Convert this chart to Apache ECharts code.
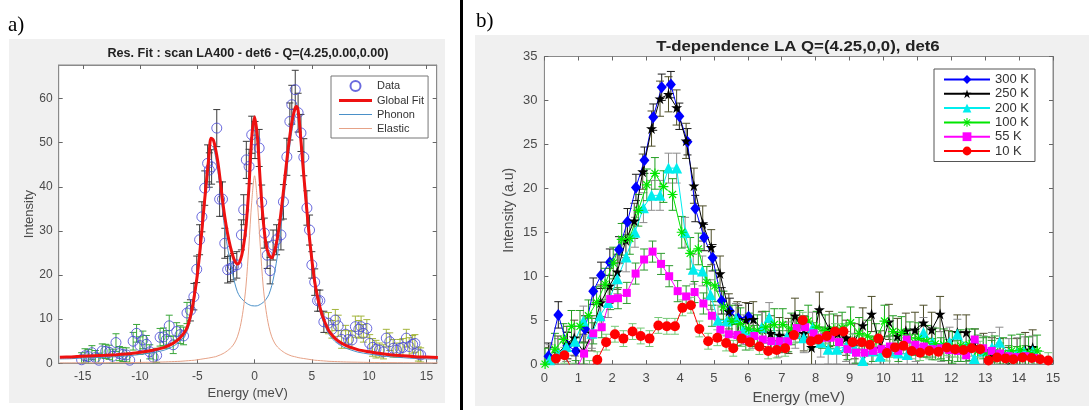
<!DOCTYPE html>
<html>
<head>
<meta charset="utf-8">
<script src="https://cdn.jsdelivr.net/npm/echarts@6/dist/echarts.min.js"></script>
<style>
  html, body { margin: 0; padding: 0; background: #fff; }
  #chart { width: 1089px; height: 410px; }
</style>
</head>
<body>
<div id="chart"></div>
<script>
// ---------- panel a) : resolution fit ----------
var fitE = [-17, -16, -15, -14, -13, -12, -11, -10, -9, -8, -7.5, -7, -6.5, -6, -5.75, -5.5, -5.25, -5, -4.75, -4.5,
  -4.25, -4, -3.8, -3.6, -3.4, -3.2, -3, -2.75, -2.5, -2.25, -2, -1.75, -1.5, -1.25, -1, -0.75, -0.5, -0.25, 0,
  0.25, 0.5, 0.75, 1, 1.25, 1.5, 1.75, 2, 2.25, 2.5, 2.75, 3, 3.25, 3.5, 3.65, 3.8, 4, 4.25, 4.5, 4.75,
  5, 5.25, 5.5, 5.75, 6, 6.5, 7, 7.5, 8, 9, 10, 11, 12, 13, 14, 15, 16];
var fitGlobal = [1.35, 1.45, 1.6, 1.7, 1.8, 1.95, 2.15, 2.5, 2.9, 3.5, 4.0, 4.7, 5.8, 7.5, 9.2, 11.8, 15.5, 20, 26, 33,
  40, 46.5, 51, 50.6, 48.5, 45.5, 41.5, 36, 31.5, 28, 25.3, 23.3, 22.5, 23.3, 26, 31, 39.5, 51, 55.8,
  51.2, 41, 32.5, 27, 24.6, 23.9, 25.5, 28.5, 33, 38.5, 44.5, 50, 54.5, 57.5, 58.2, 57.3, 52, 44, 36.5, 29.5,
  23.5, 18.5, 15, 12.3, 10.2, 7.3, 5.7, 4.7, 4.0, 3.1, 2.6, 2.2, 1.9, 1.7, 1.5, 1.4, 1.3];
var fitPhonon = [1.0, 1.05, 1.2, 1.3, 1.4, 1.5, 1.7, 2.0, 2.35, 2.9, 3.35, 4.0, 5.05, 6.65, 8.3, 10.85, 14.5, 18.9, 24.8, 31.7,
  38.6, 45, 49.4, 48.9, 46.7, 43.5, 39.3, 33.5, 28.6, 24.6, 21.3, 18.4, 16.2, 15.0, 14.3, 13.7, 13.3, 13.05, 13.0,
  13.05, 13.35, 13.8, 14.5, 15.6, 17.6, 20.6, 24.5, 29.6, 35.6, 42, 47.8, 52.5, 55.7, 56.5, 55.7, 50.5, 42.6, 35.2, 28.3,
  22.4, 17.5, 14.05, 11.4, 9.35, 6.55, 5.0, 4.05, 3.4, 2.55, 2.1, 1.73, 1.45, 1.27, 1.09, 1.0, 0.92];
var fitElastic = [0.08, 0.09, 0.1, 0.11, 0.13, 0.15, 0.17, 0.2, 0.25, 0.3, 0.35, 0.4, 0.45, 0.55, 0.6, 0.65, 0.7, 0.8, 0.9, 1.0,
  1.1, 1.2, 1.3, 1.4, 1.5, 1.7, 1.9, 2.2, 2.6, 3.1, 3.7, 4.6, 6, 8.3, 12, 17.5, 26.5, 36.5, 42.5,
  36.5, 26.5, 17.5, 12, 8.3, 6, 4.6, 3.7, 3.1, 2.6, 2.2, 1.9, 1.65, 1.5, 1.4, 1.3, 1.2, 1.1, 1.0, 0.9,
  0.8, 0.7, 0.65, 0.6, 0.55, 0.45, 0.4, 0.35, 0.3, 0.25, 0.2, 0.17, 0.15, 0.13, 0.11, 0.1, 0.09];

var dataE = [-15.1, -14.8, -14.5, -14.2, -13.9, -13.6, -13.3, -13.0, -12.7, -12.4, -12.1, -11.8, -11.5, -11.2, -10.9,
  -10.6, -10.3, -10.0, -9.75, -9.45, -9.15, -8.85, -8.55, -8.25, -7.95, -7.7, -7.45, -7.1, -6.8, -6.5, -6.2,
  -5.9, -5.6, -5.3, -5.05, -4.8, -4.6, -4.35, -4.1, -3.95, -3.75, -3.3, -3.05, -2.8, -2.6, -2.35, -2.1, -1.85,
  -1.55, -1.15, -0.95, -0.72, -0.48, -0.25, 0.04, 0.4, 0.62, 0.85, 1.1, 1.36, 1.62, 1.92, 2.3, 2.52, 2.82,
  3.08, 3.25, 3.55, 3.8, 4.05, 4.3, 4.57, 4.8, 5.0, 5.25, 5.5, 5.7, 6.05, 6.45, 6.75, 7.05, 7.3, 7.6, 7.95,
  8.2, 8.5, 8.8, 9.1, 9.3, 9.5, 9.8, 10.05, 10.3, 10.6, 10.9, 11.25, 11.5, 11.8, 12.1, 12.4, 12.7, 12.95,
  13.25, 13.5, 13.8, 14.0, 14.3, 14.5];
var dataI = [0.8, 1.7, 1.5, 2.4, 1.3, 0.7, 2.8, 2.7, 2.5, 1.6, 4.7, 2.2, 2.0, 1.9, 0.7,
  5.0, 6.8, 4.0, 5.3, 4.3, 2.6, 1.4, 1.8, 5.9, 6.0, 5.4, 8.5, 4.2, 7.2, 6.5, 6.2,
  11.4, 12.0, 15.1, 21.3, 28.0, 33.2, 39.7, 45.3, 43.8, 44.5, 53.3, 37.2, 37.2, 27.2, 21.2, 21.5, 21.9,
  22.3, 29.1, 34.8, 46.1, 44.6, 51.8, 50.6, 48.8, 36.5, 29.5, 24.5, 21.0, 26.8, 28.0, 29.1, 36.6, 46.8,
  54.8, 58.6, 62.0, 56.8, 52.2, 46.7, 35.2, 30.2, 22.3, 18.4, 14.2, 14.2, 9.4, 9.1, 7.7, 9.8, 8.5, 5.4, 6.6,
  5.4, 5.3, 8.3, 7.7, 8.3, 6.8, 7.9, 4.5, 3.6, 3.2, 3.0, 2.6, 5.7, 4.9, 3.4, 3.0, 3.4, 3.6,
  5.7, 3.8, 4.3, 4.5, 2.1, 1.9];
var dataErr = [1.6, 1.6, 1.6, 1.6, 1.6, 1.6, 1.6, 1.6, 1.6, 1.6, 2.0, 1.6, 1.6, 1.6, 1.6,
  2.0, 2.0, 2.0, 2.0, 2.0, 1.6, 1.6, 1.6, 2.0, 2.0, 2.0, 2.4, 2.0, 2.0, 2.0, 2.0,
  2.4, 2.4, 3.0, 3.0, 3.4, 3.4, 3.9, 4.2, 3.9, 3.9, 4.2, 3.9, 3.9, 3.4, 3.0, 3.0, 3.0,
  3.0, 3.4, 3.4, 4.2, 3.9, 4.2, 4.2, 4.2, 3.9, 3.4, 3.0, 3.0, 3.4, 3.4, 3.4, 3.9, 4.2,
  4.2, 4.4, 4.4, 4.4, 4.2, 4.2, 3.9, 3.4, 3.0, 3.0, 2.4, 2.4, 2.4, 2.4, 2.0, 2.4, 2.4, 2.0, 2.0,
  2.0, 2.0, 2.4, 2.0, 2.4, 2.0, 2.0, 2.0, 2.0, 2.0, 1.6, 1.6, 2.0, 2.0, 2.0, 1.6, 2.0, 2.0,
  2.0, 2.0, 2.0, 2.0, 1.6, 1.6];

var ticksAX = [-15, -10, -5, 0, 5, 10, 15];
var ticksAY = [0, 10, 20, 30, 40, 50, 60];

// ---------- panel b) : temperature dependence ----------
var tempNames = ['300 K', '250 K', '200 K', '100 K', '55 K', '10 K'];
var t300E = [0.12, 0.41, 0.68, 0.93, 1.2, 1.44, 1.67, 1.93, 2.2, 2.45, 2.7, 2.95, 3.21, 3.46, 3.73, 3.98, 4.22, 4.45,
  4.71, 4.96, 5.23, 5.47, 5.72, 6.02];
var t300I = [0.9, 5.6, 2.1, 1.5, 4.0, 8.3, 10.1, 11.6, 13.0, 16.2, 20.1, 23.2, 28.1, 31.5, 31.8, 28.2, 25.3, 17.7,
  14.4, 12.1, 7.2, 6.0, 5.2, 5.4];
var t250E = [0.14, 0.4, 0.66, 0.88, 1.15, 1.4, 1.66, 1.92, 2.15, 2.4, 2.65, 2.9, 3.16, 3.41, 3.66, 3.9, 4.18, 4.41,
  4.67, 4.92, 5.18, 5.44, 5.69, 5.94, 6.16, 6.42, 6.67, 6.93, 7.2, 7.39, 7.65, 7.88, 8.11, 8.4, 8.65, 8.9, 9.15,
  9.39, 9.65, 9.92, 10.16, 10.41, 10.66, 10.93, 11.18, 11.42, 11.67, 11.92, 12.18, 12.44, 12.7, 12.95, 13.2,
  13.44, 13.68, 13.94, 14.18, 14.4];
var t250I = [-0.1, 1.2, 2.3, 3.0, 1.4, 3.5, 7.0, 8.9, 10.5, 14.1, 16.3, 21.9, 26.8, 30.2, 30.7, 29.2, 25.4, 20.3,
  16.0, 13.3, 10.3, 6.0, 5.1, 5.0, 5.1, 4.0, 3.5, 3.3, 3.2, 5.5, 3.5, 1.9, 6.2, 4.0, 3.5, 3.0, 2.6,
  4.4, 5.7, 1.8, 4.8, 3.2, 3.8, 3.9, 4.7, 3.9, 5.7, 1.8, 3.6, 3.6, 2.0, 1.5, 1.0,
  0.9, -0.1, 0.9, 1.6, 1.9];
var t200E = [0.15, 0.4, 0.65, 0.9, 1.15, 1.4, 1.64, 1.88, 2.15, 2.41, 2.67, 2.92, 3.16, 3.41, 3.66, 3.9, 4.15, 4.39,
  4.66, 4.9, 5.12, 5.38, 5.65, 5.87, 6.13, 6.41, 6.63, 6.9, 7.15, 7.4, 7.65, 7.91, 8.15, 8.37, 8.62, 8.9, 9.15,
  9.39, 9.65, 9.9, 10.18, 10.44, 10.7, 10.95, 11.18, 11.45, 11.7, 11.95, 12.18, 12.44, 12.68, 12.95, 13.2,
  13.42, 13.7, 13.95, 14.15, 14.4];
var t200I = [0.5, 1.2, 2.0, 2.6, 4.9, 3.5, 5.5, 7.0, 9.7, 12.2, 15.0, 17.8, 19.2, 19.2, 22.3, 22.3, 15.0, 10.8,
  10.6, 7.9, 5.0, 4.9, 5.2, 3.9, 3.5, 4.2, 5.3, 2.5, 3.1, 3.5, 3.0, 4.2, 2.5, 1.7, 1.7, 2.0, 1.8,
  0.4, 1.5, 0.9, 1.5, 1.25, 1.1, 2.0, 3.6, 2.5, 2.0, 2.5, 3.4, 2.0, 0.65, 1.5, 1.9,
  2.5, 1.2, 1.3, 1.4, 1.5];
var t100E = [0.02, 0.31, 0.56, 0.8, 1.05, 1.3, 1.54, 1.79, 2.03, 2.28, 2.52, 2.77, 3.02, 3.26, 3.51, 3.78, 4.05, 4.3,
  4.54, 4.79, 5.03, 5.28, 5.53, 5.78, 6.03, 6.28, 6.53, 6.78, 7.03, 7.28, 7.53, 7.78, 8.03, 8.28, 8.53, 8.78,
  9.03, 9.28, 9.53, 9.78, 10.03, 10.28, 10.53, 10.78, 11.03, 11.28, 11.53, 11.78, 12.03, 12.28, 12.53, 12.78,
  13.03, 13.28, 13.53, 13.78, 14.03, 14.28, 14.53];
var t100I = [0, 1.7, 2.8, 4.3, 4.3, 5.5, 7.0, 9.1, 11.5, 14.2, 14.3, 17.5, 20.4, 21.7, 20.2, 19.3, 15.0, 12.6,
  13.1, 9.3, 8.9, 6.5, 4.9, 4.6, 4.0, 3.8, 4.2, 4.5, 4.5, 4.0, 4.3, 4.9, 4.2, 3.8, 3.9, 4.1,
  4.7, 3.5, 3.2, 2.8, 4.9, 3.7, 3.6, 3.0, 2.9, 2.6, 2.3, 2.2, 1.9, 2.1, 2.2, 1.5,
  1.3, 1.4, 1.2, 1.5, 1.6, 1.3, 1.5];
var t55E = [0.92, 1.17, 1.44, 1.69, 1.94, 2.17, 2.43, 2.69, 2.94, 3.19, 3.44, 3.68, 3.93, 4.18, 4.43, 4.69, 4.94,
  5.19, 5.44, 5.69, 5.94, 6.19, 6.44, 6.69, 6.94, 7.19, 7.44, 7.69, 7.94, 8.19, 8.44, 8.69, 8.94, 9.19, 9.44,
  9.69, 9.94, 10.19, 10.44, 10.69, 10.94, 11.19, 11.44, 11.69, 11.94, 12.19, 12.44, 12.69, 12.94, 13.19,
  13.44, 13.69, 13.94, 14.19, 14.44];
var t55I = [-0.8, 1.2, 3.5, 4.2, 7.4, 7.5, 8.1, 10.3, 11.9, 12.8, 11.4, 10.0, 8.3, 7.7, 8.2, 6.9, 5.5,
  3.9, 3.4, 3.3, 2.8, 3.2, 2.8, 2.6, 2.6, 2.6, 4.1, 4.2, 3.5, 3.0, 3.0, 2.5, 1.7, 1.3, 1.3,
  1.5, 1.7, 2.0, 1.5, 2.8, 2.2, 2.0, 1.7, 1.8, 1.6, 1.5, 1.0, 2.8, 1.8, 1.5,
  1.2, 0.9, 0.8, 0.9, 0.7];
var t10E = [0.34, 0.59, 0.85, 1.1, 1.33, 1.56, 1.82, 2.08, 2.33, 2.6, 2.84, 3.1, 3.36, 3.61, 3.85, 4.07, 4.32,
  4.57, 4.83, 5.1, 5.36, 5.57, 5.82, 6.06, 6.34, 6.6, 6.85, 7.1, 7.36, 7.62, 7.86, 8.08, 8.33, 8.57, 8.82,
  9.09, 9.36, 9.6, 9.85, 10.1, 10.34, 10.59, 10.83, 11.08, 11.35, 11.62, 11.87, 12.11, 12.36, 12.6, 12.85,
  13.1, 13.35, 13.6, 13.83, 14.1, 14.37, 14.62, 14.86];
var t10I = [0.65, 1.0, -0.8, -1.2, -0.5, 0.5, 2.5, 3.4, 2.9, 3.7, 3.2, 2.9, 4.4, 4.3, 4.3, 6.4, 6.7,
  4.0, 2.6, 3.0, 2.4, 1.8, 2.9, 2.5, 2.0, 1.5, 1.6, 1.8, 3.3, 5.0, 2.6, 2.8, 3.2, 3.7, 3.7,
  2.5, 2.5, 2.2, 2.9, 1.25, 1.9, 2.1, 1.5, 1.3, 1.5, 1.4, 1.9, 1.7, 1.6, 1.8, 1.7,
  0.4, 0.75, 0.65, 0.55, 0.75, 0.7, 0.55, 0.4];
var tempE = [t300E, t250E, t200E, t100E, t55E, t10E];
var tempI = [t300I, t250I, t200I, t100I, t55I, t10I];
var tempErr = [1.5, 2.0, 1.7, 1.8, 1.2, 0.9];

// styles
var FONT = '"Liberation Sans", Arial, Helvetica, sans-serif';
var AXIS_COL = '#8a8a8a';
var LABEL_COL = '#4a4a4a';
var PENTAGRAM = 'path://M0,-100 L22.45,-30.9 L95.1,-30.9 L36.3,11.8 L58.8,80.9 L0,38.2 L-58.8,80.9 L-36.3,11.8 L-95.1,-30.9 L-22.45,-30.9 Z';
var ASTERISK = 'path://M-0.6,-5 L0.6,-5 L0.6,5 L-0.6,5 Z M-5,-0.6 L5,-0.6 L5,0.6 L-5,0.6 Z M-3.96,-3.11 L-3.11,-3.96 L3.96,3.11 L3.11,3.96 Z M3.11,-3.96 L3.96,-3.11 L-3.11,3.96 L-3.96,3.11 Z';
var THICK_BAR = 'path://M0,0 L100,0 L100,9 L0,9 Z';
var THIN_BAR = 'path://M0,0 L100,0 L100,3.3 L0,3.3 Z';
var tempStyle = [
  { color: '#0000ff', symbol: 'diamond', size: [10, 12], err: '#1a1a1a' },
  { color: '#000000', symbol: PENTAGRAM, size: 11, err: '#4d4d28' },
  { color: '#00eeee', symbol: 'triangle', size: 11, err: '#8c8c8c' },
  { color: '#00e600', symbol: ASTERISK, size: 10, err: '#229e22' },
  { color: '#ff00ff', symbol: 'rect', size: 8, err: '#2e9a2e' },
  { color: '#ff0000', symbol: 'circle', size: 10, err: '#74c874' }
];

function zip2(a, b) {
  return a.map(function (v, i) { return [v, b[i]]; });
}
function zip3(a, b, c) {
  return a.map(function (v, i) { return [v, b[i], typeof c === 'number' ? c : c[i]]; });
}

function errorBars(color, cap) {
  return function (params, api) {
    var x = api.value(0), y = api.value(1), e = api.value(2);
    var hi = api.coord([x, y + e]);
    var lo = api.coord([x, y - e]);
    var c = typeof color === 'function' ? color(x) : color;
    var st = { stroke: c, lineWidth: 1 };
    return {
      type: 'group',
      children: [
        { type: 'line', shape: { x1: hi[0], y1: hi[1], x2: lo[0], y2: lo[1] }, style: st },
        { type: 'line', shape: { x1: hi[0] - cap, y1: hi[1], x2: hi[0] + cap, y2: hi[1] }, style: st },
        { type: 'line', shape: { x1: lo[0] - cap, y1: lo[1], x2: lo[0] + cap, y2: lo[1] }, style: st }
      ]
    };
  };
}

function colorA(x) {
  if (x < -5.6) return '#3aa63a';
  if (x > 6.3) return '#a3b53c';
  return '#3a3a3a';
}

function axisBase(grid, extra) {
  var o = {
    type: 'value',
    gridIndex: grid,
    axisLine: { show: true, onZero: false, lineStyle: { color: AXIS_COL, width: 1 } },
    axisTick: { show: true, inside: true, length: 4, lineStyle: { color: '#666' } },
    splitLine: { show: false },
    axisLabel: { color: LABEL_COL, fontFamily: FONT }
  };
  for (var k in extra) {
    if (typeof extra[k] === 'object' && o[k] && !Array.isArray(extra[k])) {
      o[k] = Object.assign({}, o[k], extra[k]);
    } else {
      o[k] = extra[k];
    }
  }
  return o;
}

var series = [
  {
    name: 'errA',
    type: 'custom',
    xAxisIndex: 0, yAxisIndex: 0,
    renderItem: errorBars(colorA, 3.5),
    data: zip3(dataE, dataI, dataErr),
    encode: { x: 0, y: 1 },
    clip: true, silent: true, z: 2
  },
  {
    name: 'Data',
    type: 'scatter',
    xAxisIndex: 0, yAxisIndex: 0,
    data: zip2(dataE, dataI),
    symbol: 'circle', symbolSize: 10,
    itemStyle: { color: 'rgba(0,0,0,0)', borderColor: '#4545d6', borderWidth: 1 },
    silent: true, z: 3
  },
  {
    name: 'Phonon',
    type: 'line',
    xAxisIndex: 0, yAxisIndex: 0,
    data: zip2(fitE, fitPhonon),
    showSymbol: false, symbol: 'none', smooth: 0.3,
    lineStyle: { color: '#4a90c8', width: 1 },
    itemStyle: { color: '#4a90c8' },
    silent: true, z: 4
  },
  {
    name: 'Elastic',
    type: 'line',
    xAxisIndex: 0, yAxisIndex: 0,
    data: zip2(fitE, fitElastic),
    showSymbol: false, symbol: 'none', smooth: 0.3,
    lineStyle: { color: '#e6a287', width: 1 },
    itemStyle: { color: '#e6a287' },
    silent: true, z: 4
  },
  {
    name: 'Global Fit',
    type: 'line',
    xAxisIndex: 0, yAxisIndex: 0,
    data: zip2(fitE, fitGlobal),
    showSymbol: false, symbol: 'none', smooth: 0.3,
    lineStyle: { color: '#ee1111', width: 3 },
    itemStyle: { color: '#ee1111' },
    silent: true, z: 5
  }
];

tempNames.forEach(function (name, i) {
  var s = tempStyle[i];
  series.push({
    name: 'err' + name,
    type: 'custom',
    xAxisIndex: 2, yAxisIndex: 2,
    renderItem: errorBars(s.err, 4),
    data: zip3(tempE[i], tempI[i], tempErr[i]),
    encode: { x: 0, y: 1 },
    clip: true, silent: true, z: 2
  });
});
tempNames.forEach(function (name, i) {
  var s = tempStyle[i];
  series.push({
    name: name,
    type: 'line',
    xAxisIndex: 2, yAxisIndex: 2,
    data: zip2(tempE[i], tempI[i]),
    symbol: s.symbol, symbolSize: s.size, showSymbol: true,
    lineStyle: { color: s.color, width: 1 },
    itemStyle: { color: s.color },
    clip: true, silent: true, z: 3
  });
});

var option = {
  animation: false,
  backgroundColor: '#fff',
  graphic: [
    { type: 'rect', z: -10, shape: { x: 9, y: 39, width: 436, height: 364 }, style: { fill: '#f0f0f0' } },
    { type: 'rect', z: -10, shape: { x: 475, y: 35, width: 614, height: 371 }, style: { fill: '#f0f0f0' } },
    { type: 'rect', z: 10, shape: { x: 460, y: 0, width: 3, height: 410 }, style: { fill: '#000' } },
    { type: 'text', z: 10, x: 8, y: 25, style: { text: 'a)', font: '21px "Liberation Serif", "Times New Roman", serif', fill: '#000', verticalAlign: 'middle' } },
    { type: 'text', z: 10, x: 476, y: 21, style: { text: 'b)', font: '21px "Liberation Serif", "Times New Roman", serif', fill: '#000', verticalAlign: 'middle' } },
    { type: 'text', z: 10, x: 248, y: 54, style: { text: 'Res. Fit : scan LA400 - det6 - Q=(4.25,0.00,0.00)', font: 'bold 12.6px ' + FONT, fill: '#222', align: 'center', verticalAlign: 'middle' } },
    { type: 'text', z: 10, x: 798, y: 47, scaleX: 1.2, style: { text: 'T-dependence LA Q=(4.25,0,0), det6', font: 'bold 14px ' + FONT, fill: '#222', align: 'center', verticalAlign: 'middle' } }
  ],
  grid: [
    { left: 58.7, top: 65, width: 378, height: 298.3, show: true, backgroundColor: '#fff', borderColor: AXIS_COL, borderWidth: 1 },
    { left: 544.4, top: 56.5, width: 508.6, height: 308.5, show: true, backgroundColor: '#fff', borderColor: AXIS_COL, borderWidth: 1 }
  ],
  legend: [
    {
      data: [
        { name: 'Data', icon: 'circle' },
        { name: 'Global Fit', icon: THICK_BAR },
        { name: 'Phonon', icon: THIN_BAR },
        { name: 'Elastic', icon: THIN_BAR }
      ],
      orient: 'vertical', left: 331, top: 76,
      itemWidth: 33, itemHeight: 10, itemGap: 3,
      padding: [4, 4, 4, 8],
      backgroundColor: '#fff', borderColor: '#777', borderWidth: 1, borderRadius: 0,
      selectedMode: false,
      textStyle: { fontSize: 11, color: '#333', fontFamily: FONT }
    },
    {
      data: tempNames,
      orient: 'vertical', left: 934, top: 69,
      itemWidth: 46, itemHeight: 11, itemGap: 1.3,
      padding: [4, 6, 4, 9],
      backgroundColor: '#fff', borderColor: '#555', borderWidth: 1, borderRadius: 0,
      selectedMode: false,
      textStyle: { fontSize: 13, color: '#333', fontFamily: FONT }
    }
  ],
  xAxis: [
    axisBase(0, {
      min: -17.1, max: 15.9, position: 'bottom',
      axisTick: { customValues: ticksAX },
      axisLabel: { customValues: ticksAX, fontSize: 12, margin: 7 },
      name: 'Energy (meV)', nameLocation: 'middle', nameGap: 24,
      nameTextStyle: { color: LABEL_COL, fontSize: 13, fontFamily: FONT }
    }),
    axisBase(0, {
      min: -17.1, max: 15.9, position: 'top',
      axisTick: { customValues: ticksAX },
      axisLabel: { show: false }
    }),
    axisBase(1, {
      min: 0, max: 15, interval: 1, position: 'bottom',
      axisLabel: { fontSize: 13, margin: 8 },
      name: 'Energy (meV)', nameLocation: 'middle', nameGap: 24,
      nameTextStyle: { color: LABEL_COL, fontSize: 15, fontFamily: FONT }
    }),
    axisBase(1, {
      min: 0, max: 15, interval: 1, position: 'top',
      axisLabel: { show: false }
    })
  ],
  yAxis: [
    axisBase(0, {
      min: 0, max: 67.6, position: 'left',
      axisTick: { customValues: ticksAY },
      axisLabel: { customValues: ticksAY, fontSize: 12, margin: 6 },
      name: 'Intensity', nameLocation: 'middle', nameGap: 23,
      nameTextStyle: { color: LABEL_COL, fontSize: 13, fontFamily: FONT }
    }),
    axisBase(0, {
      min: 0, max: 67.6, position: 'right',
      axisTick: { customValues: ticksAY },
      axisLabel: { show: false }
    }),
    axisBase(1, {
      min: 0, max: 35, interval: 5, position: 'left',
      axisLabel: { fontSize: 13, margin: 7 },
      name: 'Intensity (a.u)', nameLocation: 'middle', nameGap: 28,
      nameTextStyle: { color: LABEL_COL, fontSize: 14, fontFamily: FONT }
    }),
    axisBase(1, {
      min: 0, max: 35, interval: 5, position: 'right',
      axisLabel: { show: false }
    })
  ],
  series: series
};

var chart = echarts.init(document.getElementById('chart'), null, { renderer: 'canvas' });
chart.setOption(option);
</script>
</body>
</html>
